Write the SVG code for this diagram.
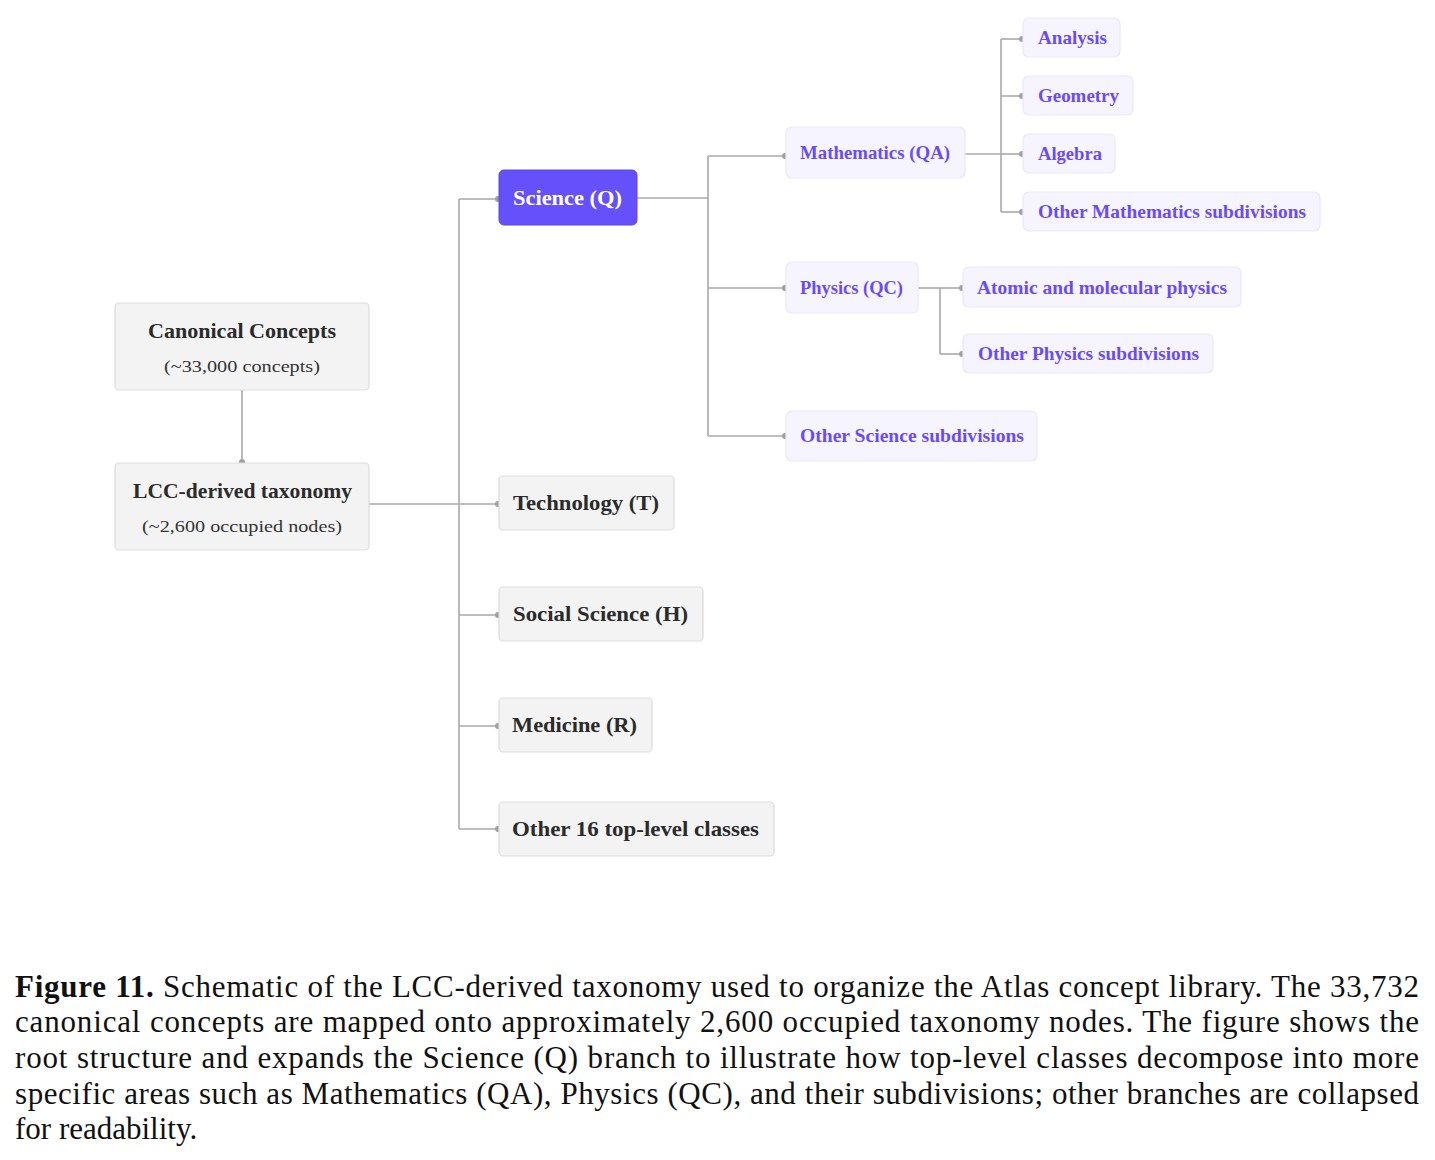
<svg xmlns="http://www.w3.org/2000/svg" width="1435" height="1160" viewBox="0 0 1435 1160">
<style>
.g rect{fill:#f3f3f3;stroke:#dddddd;stroke-width:1.2}
.p rect{fill:#f6f4ff;stroke:#ebe7fb;stroke-width:1.2}
.s rect{fill:#6550fb;stroke:#5b46ee;stroke-width:1}
text{font-family:"Liberation Serif","Times New Roman",serif}
.t{font-weight:bold;font-size:21px;fill:#2b2b2b;text-anchor:start}
.sub{font-size:17.5px;fill:#333;text-anchor:middle}
.pt{font-weight:bold;font-size:19px;fill:#6a4cf6}
.wt{font-weight:bold;font-size:21px;fill:#ffffff}
.c path{fill:none;stroke:#a9a9a9;stroke-width:1.6}
.cap{font-size:31px;fill:#111}
</style>
<defs>
<marker id="dot" viewBox="0 0 8 8" refX="4" refY="4" markerWidth="8" markerHeight="8" markerUnits="userSpaceOnUse">
<circle cx="4" cy="4" r="3" fill="#a0a0a0"/>
</marker>
</defs>
<rect width="1435" height="1160" fill="#ffffff"/>
<g class="c" id="connectors">
<path d="M242,390 V462" marker-end="url(#dot)"/>
<path d="M369,504 H459"/>
<path d="M459,199 V829"/>
<path d="M459,199 H498" marker-end="url(#dot)"/>
<path d="M459,504 H498" marker-end="url(#dot)"/>
<path d="M459,615 H498" marker-end="url(#dot)"/>
<path d="M459,726 H498" marker-end="url(#dot)"/>
<path d="M459,829 H498" marker-end="url(#dot)"/>
<path d="M637,198 H708"/>
<path d="M708,156 V436"/>
<path d="M708,156 H785" marker-end="url(#dot)"/>
<path d="M708,288 H785" marker-end="url(#dot)"/>
<path d="M708,436 H785" marker-end="url(#dot)"/>
<path d="M965,154 H1001"/>
<path d="M1001,39 V212"/>
<path d="M1001,39 H1022" marker-end="url(#dot)"/>
<path d="M1001,96 H1022" marker-end="url(#dot)"/>
<path d="M1001,154 H1022" marker-end="url(#dot)"/>
<path d="M1001,212 H1022" marker-end="url(#dot)"/>
<path d="M918,288 H940"/>
<path d="M940,288 V354"/>
<path d="M940,288 H962" marker-end="url(#dot)"/>
<path d="M940,354 H962" marker-end="url(#dot)"/>
</g>
<g id="canonical" class="g"><rect x="115" y="303" width="254" height="87" rx="4"/>
<text class="t" x="148" y="338" textLength="188" lengthAdjust="spacingAndGlyphs">Canonical Concepts</text>
<text class="sub" x="242" y="372" textLength="156" lengthAdjust="spacingAndGlyphs">(~33,000 concepts)</text></g>
<g id="lcc" class="g"><rect x="115" y="463" width="254" height="87" rx="4"/>
<text class="t" x="133" y="498" textLength="219" lengthAdjust="spacingAndGlyphs">LCC-derived taxonomy</text>
<text class="sub" x="242" y="532" textLength="200" lengthAdjust="spacingAndGlyphs">(~2,600 occupied nodes)</text></g>
<g id="science" class="s"><rect x="499" y="170" width="138" height="55" rx="5"/>
<text class="wt" x="513" y="205" textLength="109" lengthAdjust="spacingAndGlyphs">Science (Q)</text></g>
<g id="technology" class="g"><rect x="499" y="476" width="175" height="54" rx="4"/>
<text class="t" x="513" y="510" textLength="146" lengthAdjust="spacingAndGlyphs">Technology (T)</text></g>
<g id="social" class="g"><rect x="499" y="587" width="204" height="54" rx="4"/>
<text class="t" x="513" y="621" textLength="175" lengthAdjust="spacingAndGlyphs">Social Science (H)</text></g>
<g id="medicine" class="g"><rect x="499" y="698" width="153" height="54" rx="4"/>
<text class="t" x="512" y="732" textLength="125" lengthAdjust="spacingAndGlyphs">Medicine (R)</text></g>
<g id="other16" class="g"><rect x="499" y="802" width="275" height="54" rx="4"/>
<text class="t" x="512" y="836" textLength="247" lengthAdjust="spacingAndGlyphs">Other 16 top-level classes</text></g>
<g id="math" class="p"><rect x="786" y="127" width="179" height="51" rx="6"/>
<text class="pt" x="800" y="159" textLength="150" lengthAdjust="spacingAndGlyphs">Mathematics (QA)</text></g>
<g id="physics" class="p"><rect x="786" y="262" width="132" height="51" rx="6"/>
<text class="pt" x="800" y="294" textLength="103" lengthAdjust="spacingAndGlyphs">Physics (QC)</text></g>
<g id="othersci" class="p"><rect x="786" y="411" width="251" height="50" rx="6"/>
<text class="pt" x="800" y="442" textLength="224" lengthAdjust="spacingAndGlyphs">Other Science subdivisions</text></g>
<g id="analysis" class="p"><rect x="1023" y="18" width="97" height="39" rx="6"/>
<text class="pt" x="1038" y="44" textLength="69" lengthAdjust="spacingAndGlyphs">Analysis</text></g>
<g id="geometry" class="p"><rect x="1023" y="76" width="110" height="39" rx="6"/>
<text class="pt" x="1038" y="102" textLength="81" lengthAdjust="spacingAndGlyphs">Geometry</text></g>
<g id="algebra" class="p"><rect x="1023" y="134" width="92" height="39" rx="6"/>
<text class="pt" x="1038" y="160" textLength="64" lengthAdjust="spacingAndGlyphs">Algebra</text></g>
<g id="othermath" class="p"><rect x="1023" y="192" width="297" height="39" rx="6"/>
<text class="pt" x="1038" y="218" textLength="268" lengthAdjust="spacingAndGlyphs">Other Mathematics subdivisions</text></g>
<g id="atomic" class="p"><rect x="963" y="267" width="278" height="40" rx="6"/>
<text class="pt" x="977" y="294" textLength="250" lengthAdjust="spacingAndGlyphs">Atomic and molecular physics</text></g>
<g id="otherphys" class="p"><rect x="963" y="334" width="250" height="39" rx="6"/>
<text class="pt" x="978" y="360" textLength="221" lengthAdjust="spacingAndGlyphs">Other Physics subdivisions</text></g>
<g id="caption">
<text class="cap" x="15" y="997" textLength="1404" lengthAdjust="spacing"><tspan font-weight="bold">Figure 11.</tspan> Schematic of the LCC-derived taxonomy used to organize the Atlas concept library. The 33,732</text>
<text class="cap" x="15" y="1032" textLength="1404" lengthAdjust="spacing">canonical concepts are mapped onto approximately 2,600 occupied taxonomy nodes. The figure shows the</text>
<text class="cap" x="15" y="1068" textLength="1404" lengthAdjust="spacing">root structure and expands the Science (Q) branch to illustrate how top-level classes decompose into more</text>
<text class="cap" x="15" y="1104" textLength="1404" lengthAdjust="spacing">specific areas such as Mathematics (QA), Physics (QC), and their subdivisions; other branches are collapsed</text>
<text class="cap" x="15" y="1139">for readability.</text>
</g>
</svg>
